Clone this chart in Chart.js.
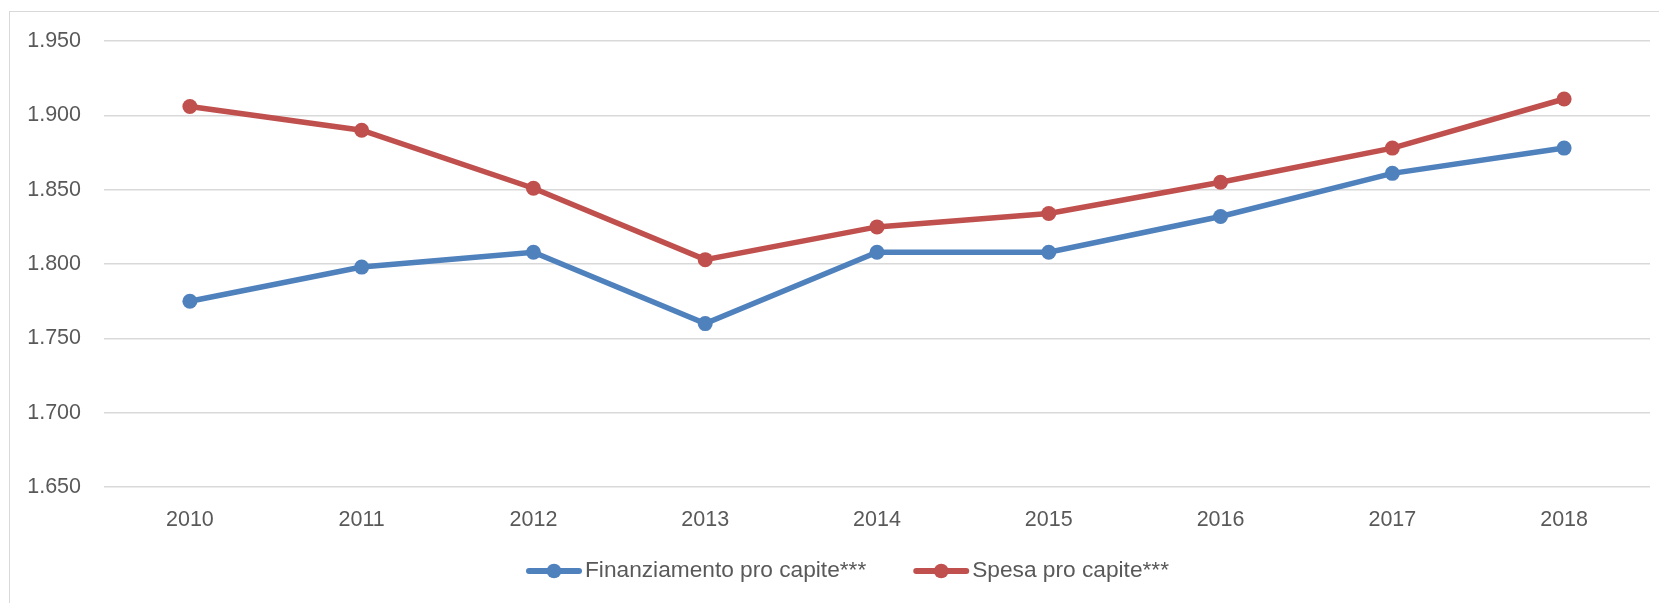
<!DOCTYPE html>
<html>
<head>
<meta charset="utf-8">
<script src="https://cdn.jsdelivr.net/npm/chart.js@4.4.1/dist/chart.umd.min.js"></script>
<style>
  html, body { margin: 0; padding: 0; background: #ffffff; overflow: hidden; }
  #wrap { position: relative; width: 1659px; height: 603px; }
  #frame { position: absolute; left: 9px; top: 11px; width: 1700px; height: 700px; border: 1px solid #d9d9d9; box-sizing: border-box; }
  canvas { position: absolute; left: 0; top: 0; }
</style>
</head>
<body>
<div id="wrap">
  <div id="frame"></div>
  <canvas id="c" width="1659" height="603"></canvas>
</div>
<script>
const years = ['2010', '2011', '2012', '2013', '2014', '2015', '2016', '2017', '2018'];
const finanziamento = [1775, 1798, 1808, 1760, 1808, 1808, 1832, 1861, 1878];
const spesa = [1906, 1890, 1851, 1803, 1825, 1834, 1855, 1878, 1911];
const seriesLabels = ['Finanziamento pro capite***', 'Spesa pro capite***'];
const yMin = 1650, yMax = 1950, yStep = 50;

const fmt = v => Math.floor(v / 1000) + '.' + String(Math.round(v) % 1000).padStart(3, '0');

const lineLegend = {
  id: 'lineLegend',
  afterDraw(chart, args, opts) {
    const ctx = chart.ctx;
    ctx.save();
    ctx.font = opts.font;
    ctx.textBaseline = 'middle';
    ctx.textAlign = 'left';
    let x = opts.x;
    const y = opts.y;
    chart.data.datasets.forEach(ds => {
      ctx.strokeStyle = ds.borderColor;
      ctx.lineWidth = opts.lineWidth;
      ctx.lineCap = 'round';
      ctx.beginPath();
      ctx.moveTo(x, y);
      ctx.lineTo(x + opts.lineLen, y);
      ctx.stroke();
      ctx.fillStyle = ds.borderColor;
      ctx.beginPath();
      ctx.arc(x + opts.lineLen / 2, y, opts.markerRadius, 0, Math.PI * 2);
      ctx.fill();
      x += opts.lineLen + opts.textGap;
      ctx.fillStyle = opts.color;
      ctx.fillText(ds.label, x, y);
      x += ctx.measureText(ds.label).width + opts.itemGap;
    });
    ctx.restore();
  }
};

new Chart(document.getElementById('c'), {
  type: 'line',
  data: {
    labels: years,
    datasets: [
      {
        label: seriesLabels[0],
        data: finanziamento,
        borderColor: '#4F81BD',
        backgroundColor: '#4F81BD',
        pointBackgroundColor: '#4F81BD',
        pointBorderColor: '#4F81BD',
        borderWidth: 5.5,
        pointRadius: 7.5,
        pointBorderWidth: 0,
        tension: 0
      },
      {
        label: seriesLabels[1],
        data: spesa,
        borderColor: '#C0504D',
        backgroundColor: '#C0504D',
        pointBackgroundColor: '#C0504D',
        pointBorderColor: '#C0504D',
        borderWidth: 5.5,
        pointRadius: 7.5,
        pointBorderWidth: 0,
        tension: 0
      }
    ]
  },
  options: {
    responsive: false,
    animation: false,
    events: [],
    layout: { padding: { left: 0, right: 9, top: 41, bottom: 50 } },
    plugins: {
      legend: { display: false },
      tooltip: { enabled: false },
      lineLegend: {
        x: 529, y: 571, lineLen: 50, lineWidth: 6, textGap: 6, itemGap: 50, markerRadius: 7.3,
        font: '22.7px "Liberation Sans", sans-serif',
        color: '#595959'
      }
    },
    scales: {
      x: {
        offset: true,
        grid: { display: false, drawTicks: false },
        border: { display: false },
        ticks: { color: '#595959', padding: 20, font: { family: '"Liberation Sans", sans-serif', size: 21.5 } }
      },
      y: {
        min: yMin, max: yMax,
        grid: { color: '#d9d9d9', lineWidth: 1.5, drawTicks: false },
        border: { display: false },
        ticks: {
          stepSize: yStep, padding: 23, color: '#595959',
          font: { family: '"Liberation Sans", sans-serif', size: 21.5 },
          callback: v => fmt(v)
        },
        afterFit: s => { s.width = 104; }
      }
    }
  },
  plugins: [lineLegend]
});
</script>
</body>
</html>
